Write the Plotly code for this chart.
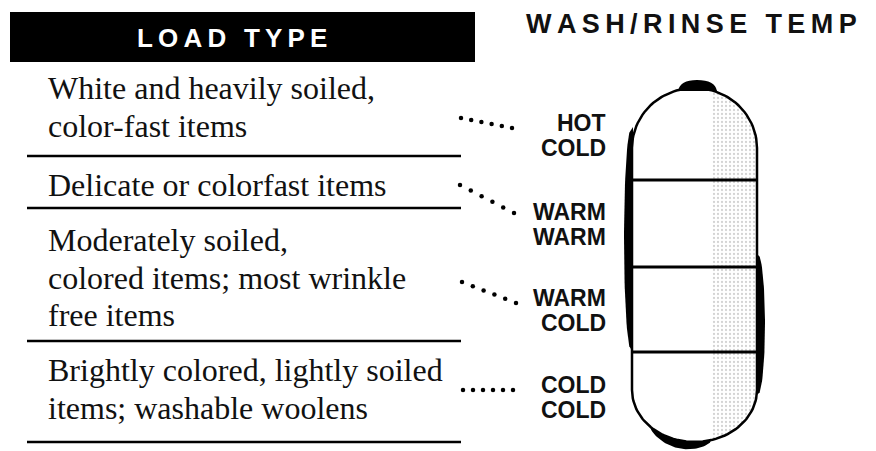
import numpy as np
import plotly.graph_objects as go

# ---------------- data ----------------
load_types = [
    ["White and heavily soiled,", "color-fast items"],
    ["Delicate or colorfast items"],
    ["Moderately soiled,", "colored items; most wrinkle", "free items"],
    ["Brightly colored, lightly soiled", "items; washable woolens"],
]
wash_temp = ["HOT", "WARM", "WARM", "COLD"]
rinse_temp = ["COLD", "WARM", "COLD", "COLD"]
header_left = "LOAD TYPE"
header_right = "WASH/RINSE TEMP"

# ---------------- layout constants (page pixels) ----------------
W, H = 876, 451
OFF = 8  # page body margin offset
row_text_y0 = [88, 185, 240, 370]
line_step = 37.5
row_sep_y = [156, 208, 341, 442]
label_y = [135.5, 224.5, 310, 397]
label_gap = 12.5
dot_start = [(461, 118), (460, 185), (462, 282), (463, 390)]
dot_end = [(512, 128), (514, 213), (516, 303), (513, 390)]
divider_y = [180, 267, 352]

cx, a = 694.5, 62.5
top_c, top_b = 148, 60
bot_c, bot_b = 390, 52

fig = go.Figure()


def ellipse_pts(yc, b, t0, t1, n=60):
    t = np.linspace(t0, t1, n)
    return cx + a * np.cos(t), yc - b * np.sin(t)


tx, ty = ellipse_pts(top_c, top_b, np.pi, 0)
bx, by = ellipse_pts(bot_c, bot_b, 0, -np.pi)
px = np.concatenate([tx, [cx + a], bx, [cx - a], [tx[0]]])
py = np.concatenate([ty, [bot_c], by, [top_c], [ty[0]]])

# stipple band on right side of pill
x_cut = 712
mask_t = tx >= x_cut
mask_b = bx >= x_cut
t_cut = np.arccos((x_cut - cx) / a)
sx = np.concatenate([[x_cut], tx[mask_t], bx[mask_b], [x_cut]])
sy = np.concatenate([[top_c - top_b * np.sin(t_cut)], ty[mask_t], by[mask_b],
                     [bot_c + bot_b * np.sin(t_cut)]])
fig.add_trace(go.Scatter(
    x=sx, y=sy, mode="lines", fill="toself", line=dict(width=0),
    fillcolor="rgba(0,0,0,0)",
    fillpattern=dict(shape=".", fgcolor="#a8a8a8", bgcolor="white", size=4, solidity=0.25),
    hoverinfo="skip"))

# pill outline
fig.add_trace(go.Scatter(x=px, y=py, mode="lines", line=dict(color="black", width=2.5),
                         hoverinfo="skip"))

# thick left edge
ly = np.linspace(127, 352, 40)
lw = 9 * np.sin(np.linspace(0, np.pi, 40)) ** 0.35
fig.add_trace(go.Scatter(x=np.concatenate([np.full(40, 633.0), (633 - lw)[::-1]]),
                         y=np.concatenate([ly, ly[::-1]]), fill="toself", mode="lines",
                         line=dict(width=0), fillcolor="black", hoverinfo="skip"))
# thick right edge
ry = np.linspace(253, 396, 40)
rw = 9 * np.sin(np.linspace(0, np.pi, 40)) ** 0.35
fig.add_trace(go.Scatter(x=np.concatenate([np.full(40, 756.0), (756 + rw)[::-1]]),
                         y=np.concatenate([ry, ry[::-1]]), fill="toself", mode="lines",
                         line=dict(width=0), fillcolor="black", hoverinfo="skip"))
# bottom crescent shading
ang = np.linspace(-2.35, -1.3, 40)
ix, iy = cx + a * np.cos(ang), bot_c - bot_b * np.sin(ang)
thick = 8 * np.sin(np.linspace(0, np.pi, 40)) ** 0.5
ox, oy = cx + (a + thick * 0.5) * np.cos(ang), bot_c - (bot_b + thick) * np.sin(ang)
fig.add_trace(go.Scatter(x=np.concatenate([ix, ox[::-1]]), y=np.concatenate([iy, oy[::-1]]),
                         fill="toself", mode="lines", line=dict(width=0), fillcolor="black",
                         hoverinfo="skip"))
# top blob
fig.add_shape(type="path", path="M 678,91 Q 680,80 697,80 Q 715,80 717,91 Z",
              fillcolor="black", line=dict(width=0))

# dividers inside pill
for yv in divider_y:
    fig.add_shape(type="line", x0=633, x1=757, y0=yv, y1=yv, line=dict(color="black", width=3))

# header bar
fig.add_shape(type="rect", x0=10, x1=475, y0=12, y1=62, fillcolor="black", line=dict(width=0))
fig.add_annotation(x=232, y=38, text="<b>" + "\u2009".join(list(header_left)) + "</b>",
                   showarrow=False, font=dict(family="Liberation Sans", size=26, color="white"),
                   xanchor="center", yanchor="middle")
fig.add_annotation(x=691, y=23.5, text="<b>" + "\u2009".join(list(header_right)) + "</b>",
                   showarrow=False, font=dict(family="Liberation Sans", size=27, color="#111"),
                   xanchor="center", yanchor="middle", borderpad=0)

# row separators
for yv in row_sep_y:
    fig.add_shape(type="line", x0=27, x1=461, y0=yv, y1=yv, line=dict(color="black", width=2.5))

# load type texts
for lines, y0 in zip(load_types, row_text_y0):
    for k, txt in enumerate(lines):
        fig.add_annotation(x=46, y=y0 + k * line_step, text=txt, showarrow=False,
                           xanchor="left", yanchor="middle",
                           font=dict(family="Liberation Serif", size=32, color="#111"))

# dot leaders
for (x0, y0), (x1, y1) in zip(dot_start, dot_end):
    fig.add_trace(go.Scatter(x=np.linspace(x0, x1, 6), y=np.linspace(y0, y1, 6), mode="markers",
                             marker=dict(color="black", size=4.5), hoverinfo="skip"))

# temperature labels
for wt, rt, yv in zip(wash_temp, rinse_temp, label_y):
    for t, yy in ((wt, yv - label_gap), (rt, yv + label_gap)):
        fig.add_annotation(x=608, y=yy, text="<b>" + t + "</b>", showarrow=False,
                           xanchor="right", yanchor="middle",
                           font=dict(family="Liberation Sans", size=23, color="#111"))

fig.update_layout(
    width=W, height=H, margin=dict(l=0, r=0, t=0, b=0),
    paper_bgcolor="white", plot_bgcolor="white", showlegend=False,
    xaxis=dict(range=[OFF, W + OFF], visible=False, fixedrange=True),
    yaxis=dict(range=[H + OFF, OFF], visible=False, fixedrange=True),
)
fig.write_html("out.html")
